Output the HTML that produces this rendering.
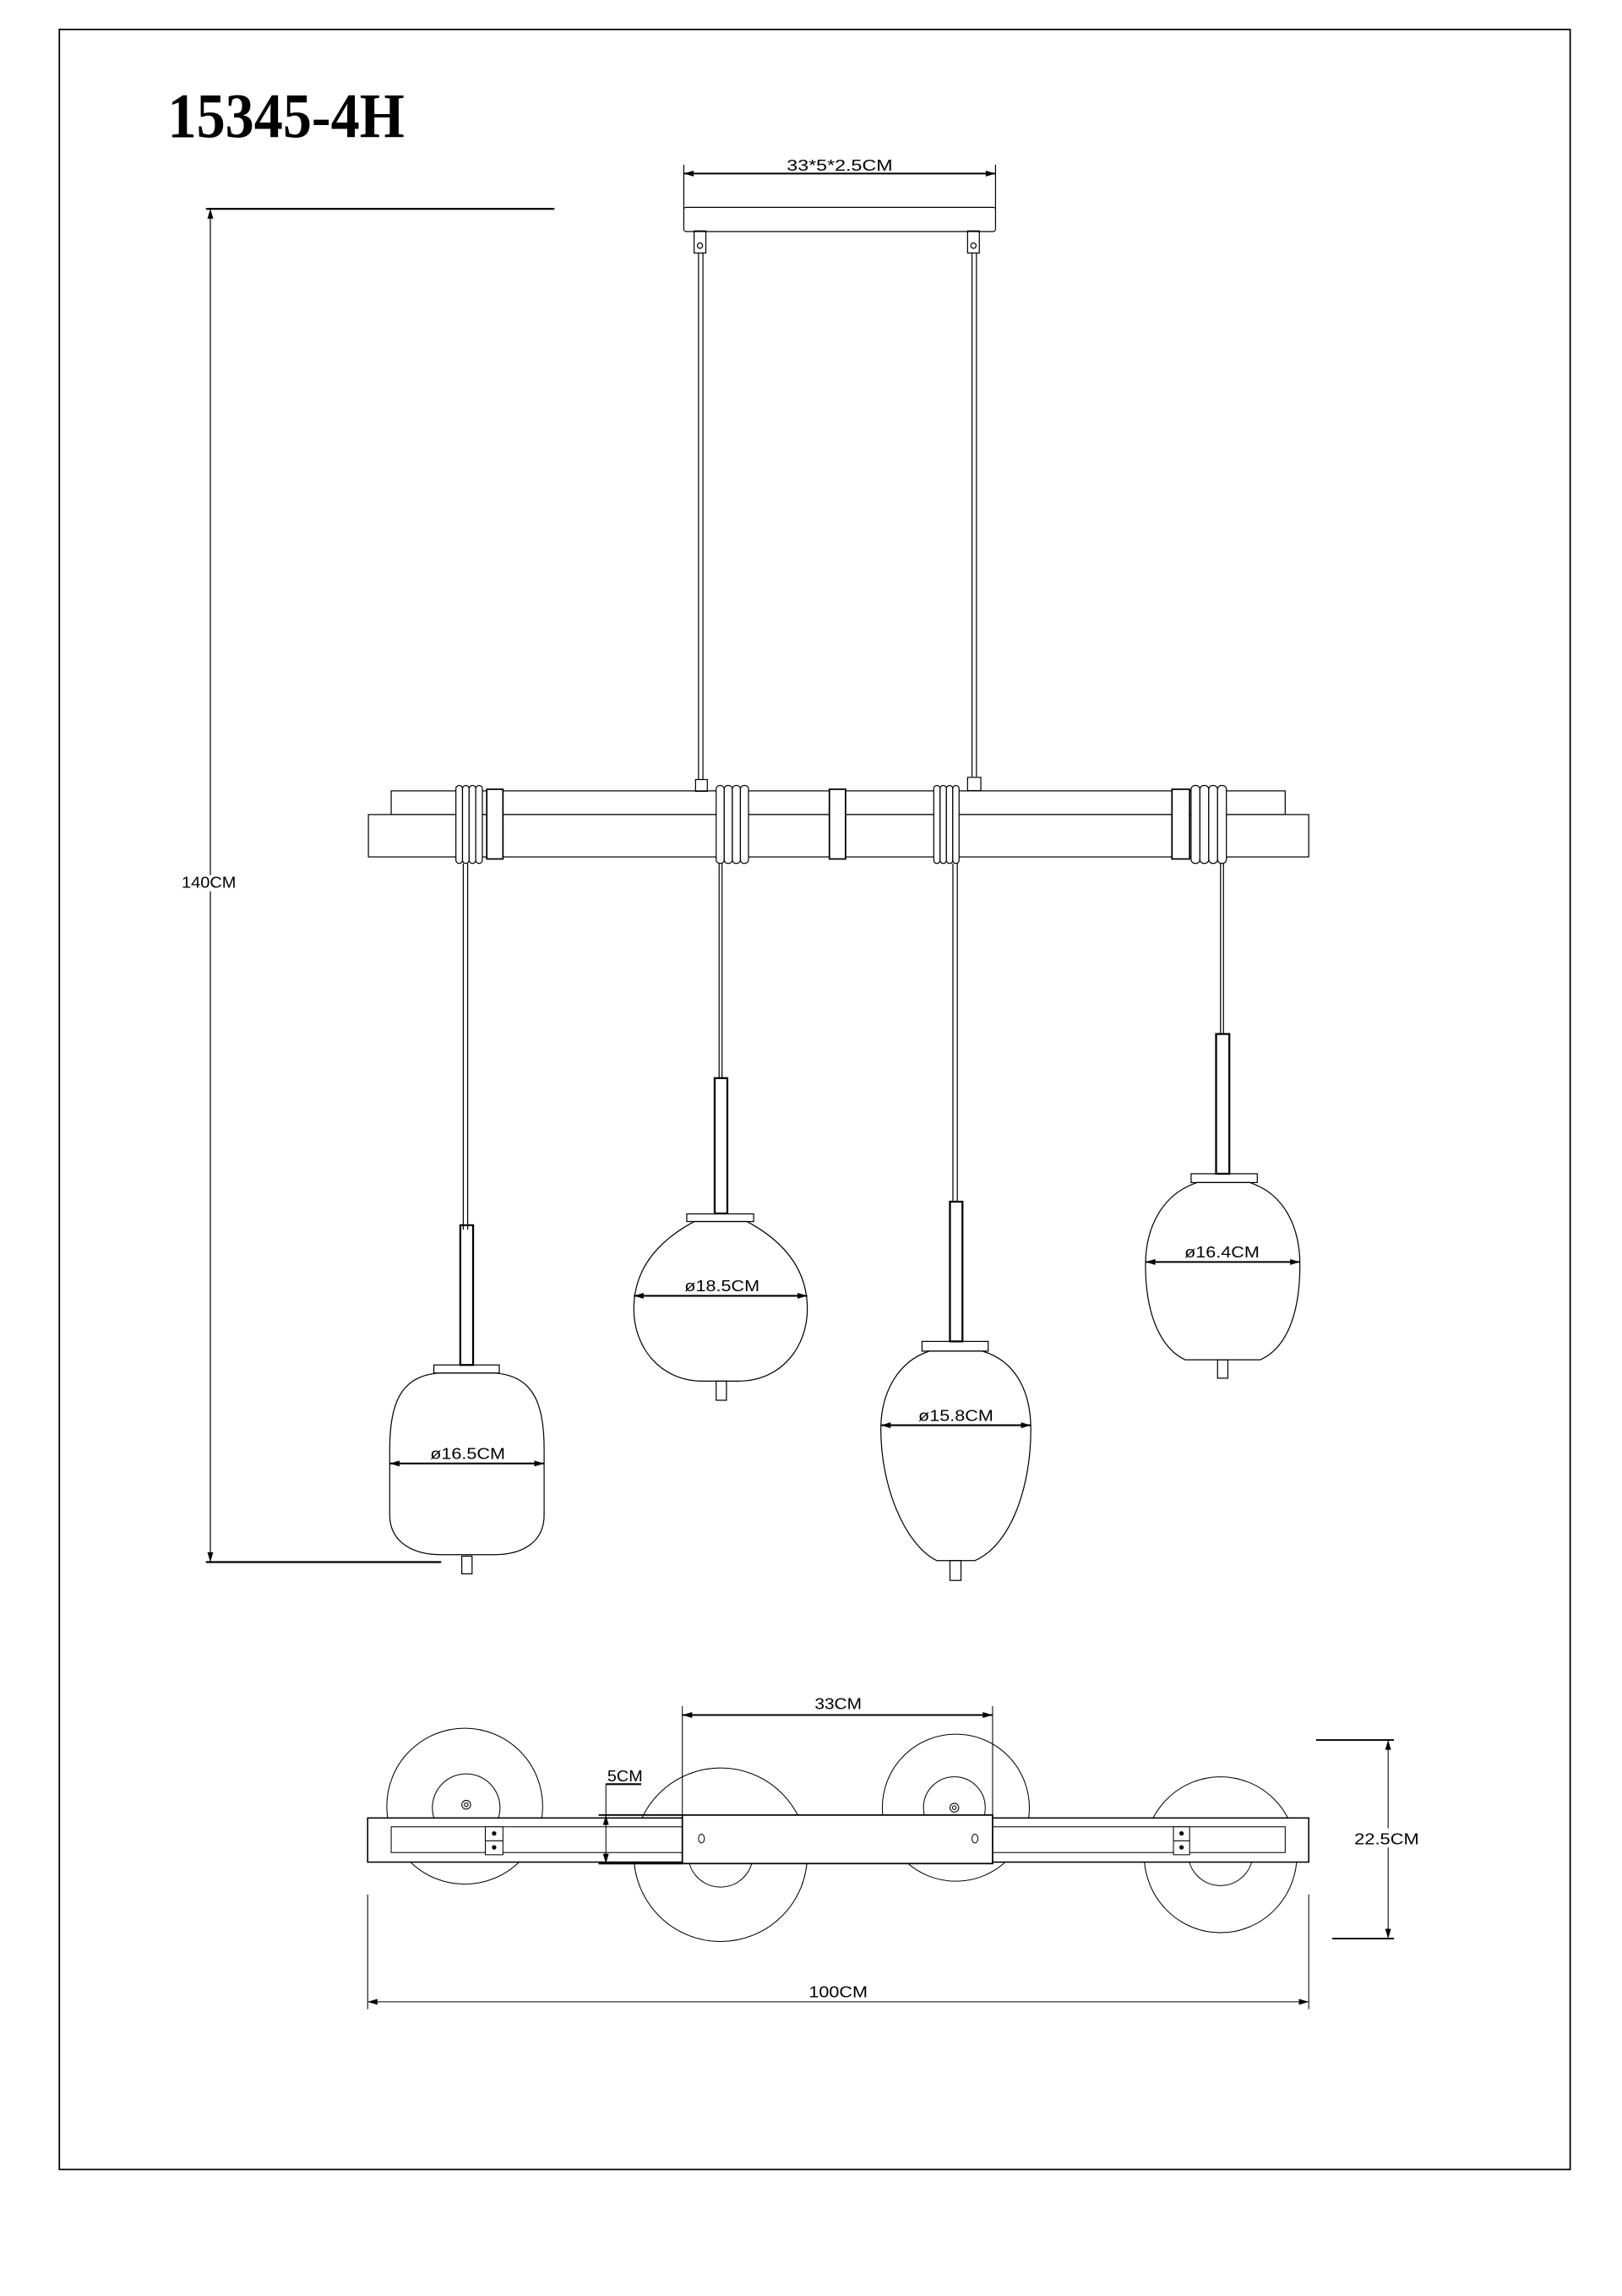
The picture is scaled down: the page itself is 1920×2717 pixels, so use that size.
<!DOCTYPE html>
<html><head><meta charset="utf-8"><style>html,body{margin:0;padding:0;background:#fff}svg{display:block}</style></head>
<body>
<svg width="1920" height="2717" viewBox="0 0 1103 1561" xmlns="http://www.w3.org/2000/svg" font-family="Liberation Sans, sans-serif">
<defs>
<marker id="a" viewBox="0 0 10 6" refX="10" refY="3" markerWidth="7" markerHeight="4" orient="auto-start-reverse" markerUnits="userSpaceOnUse"><path d="M0,0 L10,3 L0,6 Z" fill="#000"/></marker>
</defs>
<rect x="0" y="0" width="1103" height="1561" fill="#fff"/>
<rect x="40.3" y="20" width="1027.5" height="1455" fill="none" stroke="#000" stroke-width="1"/>
<text x="114" y="93.5" font-family="Liberation Serif, serif" font-size="43" font-weight="bold" textLength="161" lengthAdjust="spacingAndGlyphs">15345-4H</text>

<g fill="none" stroke="#000" stroke-width="0.7">
<line x1="465" y1="112" x2="465" y2="142"/><line x1="677" y1="112" x2="677" y2="142"/>
<line x1="465" y1="118" x2="677" y2="118" stroke-width="1.1" marker-start="url(#a)" marker-end="url(#a)"/>
<rect x="465" y="141" width="212" height="16.4" rx="1.5"/>
<rect x="472" y="157" width="8" height="15"/><circle cx="476" cy="167" r="1.8"/>
<rect x="658" y="157" width="8" height="15"/><circle cx="662" cy="167" r="1.8"/>
<line x1="475" y1="172" x2="475" y2="530"/><line x1="478" y1="172" x2="478" y2="530"/>
<line x1="661" y1="172" x2="661" y2="528"/><line x1="664" y1="172" x2="664" y2="528"/>
<rect x="473" y="530" width="8" height="8"/><rect x="658" y="528.5" width="9" height="9"/>
<line x1="140" y1="142" x2="377" y2="142" stroke-width="1.3"/>
<line x1="140" y1="1062" x2="300" y2="1062" stroke-width="1.3"/>
<line x1="143" y1="142" x2="143" y2="1062" marker-start="url(#a)" marker-end="url(#a)"/>
<rect x="266" y="537.7" width="608" height="16.1"/>
<rect x="250.5" y="553.8" width="639.5" height="28.8" fill="#fff"/>
<rect x="331" y="536.6" width="11" height="47.4" fill="#fff" stroke-width="1"/>
<rect x="564" y="536.6" width="11" height="47.4" fill="#fff" stroke-width="1"/>
<rect x="797" y="536.6" width="12" height="47.4" fill="#fff" stroke-width="1"/>
<g fill="#fff">
<rect x="310" y="534" width="4.5" height="53" rx="2.2"/><rect x="314.5" y="534" width="4.5" height="53" rx="2.2"/><rect x="319" y="534" width="4.5" height="53" rx="2.2"/><rect x="323.5" y="534" width="4.5" height="53" rx="2.2"/>
<rect x="487" y="534" width="5.5" height="53" rx="2.5"/><rect x="492.5" y="534" width="5.5" height="53" rx="2.5"/><rect x="498" y="534" width="5.5" height="53" rx="2.5"/><rect x="503.5" y="534" width="5.5" height="53" rx="2.5"/>
<rect x="635" y="534" width="4.3" height="53" rx="2.1"/><rect x="639.3" y="534" width="4.3" height="53" rx="2.1"/><rect x="643.6" y="534" width="4.3" height="53" rx="2.1"/><rect x="647.9" y="534" width="4.3" height="53" rx="2.1"/>
<rect x="810" y="534" width="6" height="53" rx="2.7"/><rect x="816" y="534" width="6" height="53" rx="2.7"/><rect x="822" y="534" width="6" height="53" rx="2.7"/><rect x="828" y="534" width="6" height="53" rx="2.7"/>
</g>
<line x1="315" y1="587" x2="315" y2="836"/><line x1="318" y1="587" x2="318" y2="836"/>
<line x1="489" y1="587" x2="489" y2="733"/><line x1="491" y1="587" x2="491" y2="733"/>
<line x1="648" y1="587" x2="648" y2="817"/><line x1="651" y1="587" x2="651" y2="817"/>
<line x1="830" y1="587" x2="830" y2="703"/><line x1="832" y1="587" x2="832" y2="703"/>
<rect x="313" y="833" width="8.7" height="95" stroke-width="1.3"/>
<rect x="295" y="928" width="44.5" height="5.5"/>
<path d="M299,933.5 C272,935 265,955 265,985 L265,1030 C265,1048 280,1057 300,1057 L336,1057 C356,1057 370,1048 370,1030 L370,985 C370,955 363,935 336,933.5 Z"/>
<rect x="314" y="1058" width="7" height="12"/>
<rect x="486" y="733" width="8.6" height="92" stroke-width="1.3"/>
<rect x="467" y="825.3" width="45.5" height="5.2"/>
<path d="M472,830.5 C445,845 431,865 431,890 C431,915 448,939 478,939 L502,939 C532,939 549,915 549,890 C549,865 535,845 508,830.5 Z"/>
<rect x="487" y="939" width="7" height="13"/>
<rect x="646" y="817" width="8.5" height="95" stroke-width="1.3"/>
<rect x="627" y="912" width="45" height="6.6"/>
<path d="M632,918.6 C612,925 599,945 599,972 C599,1010 615,1050 637,1061 L663,1061 C688,1050 701,1010 701,972 C701,945 690,925 668,918.6 Z"/>
<rect x="646" y="1061" width="7.5" height="13.5"/>
<rect x="827" y="703" width="9" height="95" stroke-width="1.3"/>
<rect x="810" y="798" width="45" height="6"/>
<path d="M814,804 C790,812 779,835 779,860 C779,895 790,917 806,924.5 L857,924.5 C874,917 884,895 884,860 C884,835 874,812 850,804 Z"/>
<rect x="828" y="924.5" width="7" height="12.5"/>
</g>
<g stroke="#000" stroke-width="1.2">
<line x1="265" y1="995" x2="370" y2="995" marker-start="url(#a)" marker-end="url(#a)"/>
<line x1="431" y1="881" x2="549" y2="881" marker-start="url(#a)" marker-end="url(#a)"/>
<line x1="599" y1="969" x2="701" y2="969" marker-start="url(#a)" marker-end="url(#a)"/>
<line x1="779" y1="858" x2="884" y2="858" marker-start="url(#a)" marker-end="url(#a)"/>
</g>
<g font-size="10.5" text-anchor="middle">
<text x="571" y="116" textLength="72" lengthAdjust="spacingAndGlyphs">33*5*2.5CM</text>
<text x="318" y="992" textLength="51" lengthAdjust="spacingAndGlyphs">ø16.5CM</text>
<text x="491" y="878" textLength="51" lengthAdjust="spacingAndGlyphs">ø18.5CM</text>
<text x="650" y="966" textLength="51" lengthAdjust="spacingAndGlyphs">ø15.8CM</text>
<text x="831" y="855" textLength="51" lengthAdjust="spacingAndGlyphs">ø16.4CM</text>
</g>
<rect x="124" y="595" width="37" height="11" fill="#fff"/>
<text x="123.5" y="603.6" font-size="10.5" textLength="37" lengthAdjust="spacingAndGlyphs">140CM</text>

<g fill="none" stroke="#000" stroke-width="0.6">
<ellipse cx="316" cy="1228" rx="53" ry="53"/><circle cx="317" cy="1229" r="23"/><circle cx="317" cy="1227" r="3"/><circle cx="317" cy="1227" r="1.3"/>
<ellipse cx="490" cy="1261" rx="59" ry="59"/><circle cx="490" cy="1261" r="22"/><circle cx="490" cy="1261" r="3"/><circle cx="490" cy="1261" r="1.3"/>
<ellipse cx="650" cy="1229" rx="50" ry="50"/><circle cx="649" cy="1229" r="21"/><circle cx="649" cy="1229" r="3"/><circle cx="649" cy="1229" r="1.3"/>
<ellipse cx="830" cy="1261" rx="52" ry="53"/><circle cx="830" cy="1260" r="22"/><circle cx="830" cy="1259" r="3"/><circle cx="830" cy="1259" r="1.3"/>
<rect x="250" y="1236" width="640" height="30" fill="#fff" stroke-width="0.9"/>
<rect x="266" y="1242" width="608" height="17.5"/>
<rect x="464" y="1234" width="211" height="33" fill="#fff" stroke-width="1"/>
<ellipse cx="477" cy="1250" rx="2" ry="3"/><ellipse cx="663" cy="1250" rx="2" ry="3"/>
<rect x="330" y="1242" width="12" height="19" fill="#fff"/><line x1="330" y1="1251.5" x2="342" y2="1251.5"/><circle cx="336" cy="1246.5" r="1.2" fill="#000"/><circle cx="336" cy="1256" r="1.2" fill="#000"/>
<rect x="798" y="1242" width="11" height="19" fill="#fff"/><line x1="798" y1="1251.5" x2="809" y2="1251.5"/><circle cx="803.5" cy="1246.5" r="1.2" fill="#000"/><circle cx="803.5" cy="1256" r="1.2" fill="#000"/>
<line x1="464" y1="1160" x2="464" y2="1234"/><line x1="675" y1="1160" x2="675" y2="1234"/>
<line x1="464" y1="1166" x2="675" y2="1166" stroke-width="1.1" marker-start="url(#a)" marker-end="url(#a)"/>
<line x1="407" y1="1234" x2="464" y2="1234" stroke-width="1.1"/><line x1="407" y1="1267" x2="464" y2="1267" stroke-width="1.1"/>
<line x1="412" y1="1213" x2="412" y2="1267" marker-end="url(#a)"/>
<line x1="412" y1="1234" x2="412" y2="1236" marker-start="url(#a)"/>
<line x1="412" y1="1213" x2="436" y2="1213" stroke-width="1.2"/>
<line x1="895" y1="1183" x2="948" y2="1183" stroke-width="1.1"/><line x1="906" y1="1318" x2="948" y2="1318" stroke-width="1.1"/>
<line x1="944" y1="1183" x2="944" y2="1318" marker-start="url(#a)" marker-end="url(#a)"/>
<line x1="250" y1="1288" x2="250" y2="1366"/><line x1="890" y1="1288" x2="890" y2="1366"/>
<line x1="250" y1="1361" x2="890" y2="1361" marker-start="url(#a)" marker-end="url(#a)"/>
</g>
<g font-size="10.5">
<text x="570" y="1162" text-anchor="middle" textLength="32" lengthAdjust="spacingAndGlyphs">33CM</text>
<text x="413" y="1211" textLength="24" lengthAdjust="spacingAndGlyphs">5CM</text>
<rect x="920" y="1243" width="47" height="13" fill="#fff"/>
<text x="921" y="1254" textLength="44" lengthAdjust="spacingAndGlyphs">22.5CM</text>
<text x="570" y="1358" text-anchor="middle" textLength="40" lengthAdjust="spacingAndGlyphs">100CM</text>
</g>
</svg>
</body></html>
